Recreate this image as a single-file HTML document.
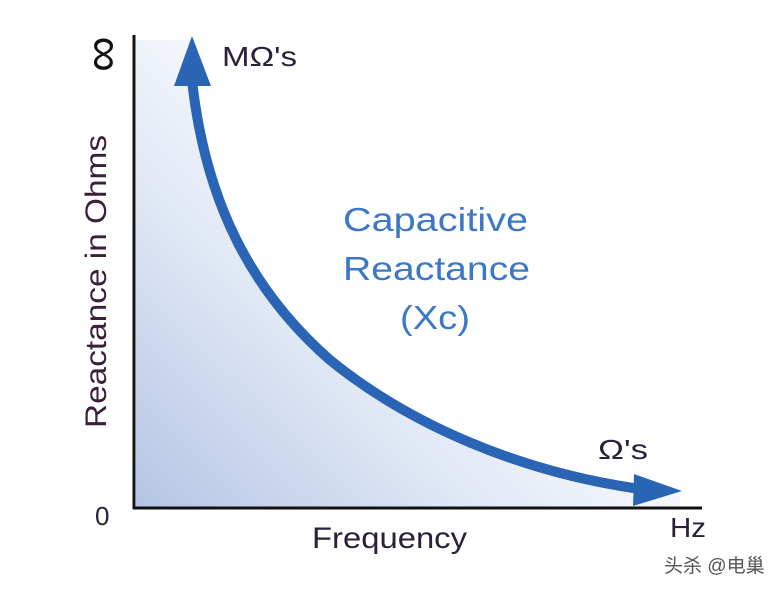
<!DOCTYPE html>
<html><head><style>
body{margin:0;background:#fff;}
svg{display:block;}
text{font-family:"Liberation Sans",sans-serif;}
</style></head><body>
<svg width="782" height="598" viewBox="0 0 782 598" xmlns="http://www.w3.org/2000/svg">
<defs>
<linearGradient id="g" x1="0" y1="1" x2="0.9" y2="0.2">
<stop offset="0" stop-color="#b4c5e4"/>
<stop offset="0.4" stop-color="#e2e9f6"/>
<stop offset="0.75" stop-color="#ffffff"/>
</linearGradient>
</defs>
<rect width="782" height="598" fill="#fff"/>
<path d="M136 40 L190 40 C205 200 250 290 330 360 C410 425 520 472 680 490 L680 507 L136 507 Z" fill="url(#g)"/>
<path d="M192 80 C205 200 250 290 330 360 C410 425 520 472 640 489" fill="none" stroke="#2a64b5" stroke-width="10"/>
<polygon points="192,36 174,86 211,86" fill="#2a64b5"/>
<polygon points="682,491 634,474 633,506" fill="#2a64b5"/>
<line x1="134" y1="35" x2="134" y2="509" stroke="#111" stroke-width="3"/>
<line x1="133" y1="508" x2="702" y2="508" stroke="#111" stroke-width="3"/>
<text x="222" y="66" font-size="28" fill="#2a2038" textLength="75" lengthAdjust="spacingAndGlyphs">MΩ's</text>
<text x="598" y="459" font-size="28" fill="#2a2038" textLength="50" lengthAdjust="spacingAndGlyphs">Ω's</text>
<text x="670" y="537" font-size="28" fill="#2a2038" textLength="36" lengthAdjust="spacingAndGlyphs">Hz</text>
<text x="95" y="525" font-size="26" fill="#2a2038">0</text>
<text x="312" y="548" font-size="30" fill="#2a2038" textLength="155" lengthAdjust="spacingAndGlyphs">Frequency</text>
<text transform="translate(106,428) rotate(-90)" font-size="30" fill="#3a2038" textLength="293" lengthAdjust="spacingAndGlyphs">Reactance in Ohms</text>
<text transform="translate(118,72) rotate(-90)" font-size="50" fill="#111">∞</text>
<text x="343" y="231" font-size="33" fill="#3d78c6" textLength="185" lengthAdjust="spacingAndGlyphs">Capacitive</text>
<text x="343" y="280" font-size="33" fill="#3d78c6" textLength="187" lengthAdjust="spacingAndGlyphs">Reactance</text>
<text x="400" y="329" font-size="33" fill="#3d78c6" textLength="70" lengthAdjust="spacingAndGlyphs">(Xc)</text>
<text x="664" y="572" font-size="19" fill="#555" style="font-family:'Liberation Sans','Noto Sans CJK SC',sans-serif">头杀 @电巢</text>
</svg>
</body></html>
